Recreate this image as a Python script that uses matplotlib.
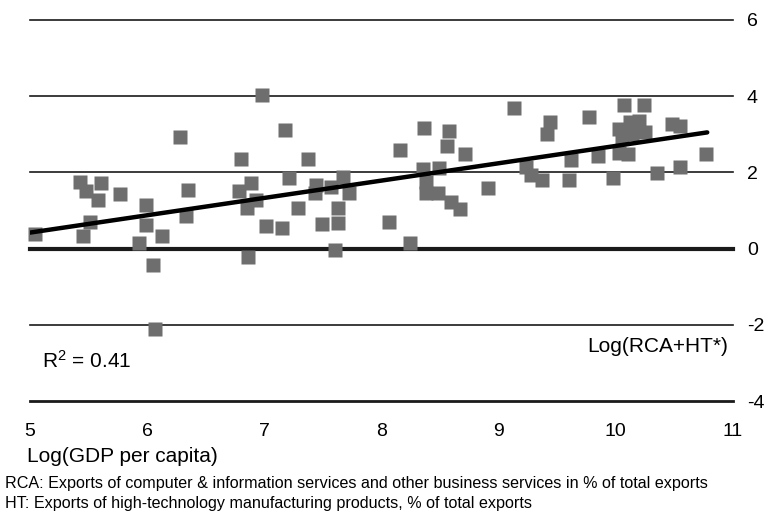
import numpy as np
import matplotlib
matplotlib.use('Agg')
from matplotlib import pyplot as plt

plt.rcParams['font.family'] = ['Liberation Sans', 'DejaVu Sans']
plt.rcParams['mathtext.default'] = 'regular'
plt.rcParams['axes.unicode_minus'] = False

# values
log_gdp = [5.04, 5.43, 5.61, 5.48, 5.58, 5.77, 5.51, 5.45, 5.93, 5.99,
           5.99, 6.13, 6.05, 6.07, 6.33, 6.35, 6.28, 6.98, 7.18, 6.80,
           7.37, 7.21, 6.89, 6.78, 6.93, 6.85, 7.01, 7.15, 7.29, 7.44,
           7.43, 7.57, 7.67, 7.72, 7.63, 7.63, 7.49, 7.60, 6.86, 8.06,
           8.24, 8.16, 8.36, 8.58, 8.56, 8.71, 8.35, 8.49, 8.38, 8.38,
           8.48, 8.59, 8.67, 8.91, 9.13, 9.44, 9.41, 9.23, 9.28, 9.37,
           9.62, 9.60, 9.77, 9.85, 9.98, 10.07, 10.24, 10.12, 10.20, 10.03,
           10.05, 10.14, 10.25, 10.03, 10.10, 10.35, 10.48, 10.55, 10.55, 10.77]
log_rca_ht = [0.38, 1.75, 1.72, 1.51, 1.27, 1.42, 0.71, 0.32, 0.16, 0.62,
              1.14, 0.34, -0.42, -2.12, 0.86, 1.55, 2.92, 4.04, 3.11, 2.36,
              2.34, 1.86, 1.71, 1.51, 1.27, 1.06, 0.60, 0.54, 1.06, 1.66,
              1.45, 1.62, 1.88, 1.47, 1.06, 0.67, 0.64, -0.03, -0.22, 0.71,
              0.15, 2.59, 3.16, 3.09, 2.70, 2.47, 2.10, 2.12, 1.75, 1.45,
              1.46, 1.23, 1.03, 1.59, 3.68, 3.31, 3.02, 2.14, 1.92, 1.81,
              2.33, 1.79, 3.45, 2.44, 1.85, 3.78, 3.76, 3.32, 3.35, 3.14,
              2.91, 3.01, 3.05, 2.52, 2.47, 1.98, 3.26, 3.22, 2.14, 2.49]

trend_x = [5.0, 10.78]
trend_y = [0.42, 3.05]

y_ticks = [6, 4, 2, 0, -2, -4]
x_ticks = [5, 6, 7, 8, 9, 10, 11]

fig = plt.figure(figsize=(7.68, 5.11), dpi=100)
ax = fig.add_axes([30/768, 1-401/511, (733-30)/768, (401-20)/511])

for yv in y_ticks:
    if yv == 0:
        lw = 3.0
    elif yv == -4:
        lw = 2.0
    else:
        lw = 1.2
    ax.axhline(yv, color='#1a1a1a', lw=lw, zorder=1, clip_on=False)

ax.plot(log_gdp, log_rca_ht, 's', ms=10.5, color='#6e6e6e', mec='none',
        zorder=2, clip_on=False)
ax.plot(trend_x, trend_y, color='black', lw=3.2, solid_capstyle='round', zorder=3)

ax.set_xlim(5, 11)
ax.set_ylim(-4, 6)
ax.set_xticks(x_ticks)
ax.set_yticks(y_ticks)
ax.yaxis.tick_right()
ax.tick_params(axis='y', length=0, pad=10, labelsize=14)
ax.tick_params(axis='x', length=0, pad=16, labelsize=14)
for s in ax.spines.values():
    s.set_visible(False)

ax.text(5.10, -2.94, r'R$^{2}$ = 0.41', fontsize=15, va='center', ha='left')
ax.text(10.96, -2.57, 'Log(RCA+HT*)', fontsize=15, va='center', ha='right')

fig.text(27/768, 1-456/511, 'Log(GDP per capita)', fontsize=15, va='center', ha='left')
fig.text(5/768, 1-483/511,
         'RCA: Exports of computer & information services and other business services in % of total exports',
         fontsize=11.6, va='center', ha='left')
fig.text(5/768, 1-503/511,
         'HT: Exports of high-technology manufacturing products, % of total exports',
         fontsize=11.6, va='center', ha='left')

fig.savefig('out.png', dpi=100)
